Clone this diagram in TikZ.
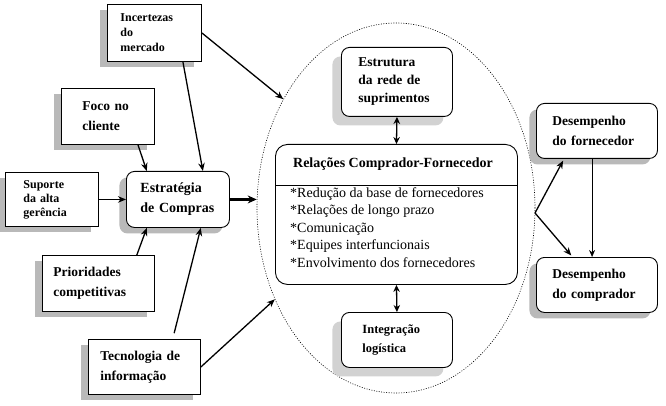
\documentclass[tikz,border=0pt]{standalone}
\usepackage{fontspec}
\setmainfont{Liberation Serif}
\usetikzlibrary{arrows.meta,shapes.geometric,calc,shadows}
\begin{document}
\begin{tikzpicture}[x=1pt,y=-1pt,
  box/.style={draw=black, line width=0.9pt, fill=white, align=left, inner ysep=0pt, anchor=north west},
  rbox/.style={box, rounded corners=8pt},
  dshad/.style={drop shadow={shadow xshift=-7pt,shadow yshift=-6pt,fill=gray!55,opacity=1}},
  lshad/.style={drop shadow={shadow xshift=-9pt,shadow yshift=-9pt,fill=gray!35,opacity=1}},
  arr/.style={-{Stealth[length=8pt,width=6.5pt]}, line width=1.3pt},
  darr/.style={{Stealth[length=7pt,width=6.5pt]}-{Stealth[length=7pt,width=6.5pt]}, line width=1.3pt},
  fa/.style={font=\fontsize{12}{15}\selectfont\bfseries},
  fb/.style={font=\fontsize{13.5}{20}\selectfont\bfseries},
  fc/.style={font=\fontsize{12}{14}\selectfont\bfseries},
  fd/.style={font=\fontsize{14}{20}\selectfont\bfseries},
  fe/.style={font=\fontsize{13.5}{18}\selectfont\bfseries},
  fg/.style={font=\fontsize{12.5}{19}\selectfont\bfseries},
  ff/.style={font=\fontsize{13.5}{20}\selectfont\bfseries}]
\useasboundingbox (0,0) rectangle (666,406);

% dotted ellipse
\node[ellipse, draw, line width=0.6pt, dash pattern=on 1pt off 1.5pt, minimum width=278pt, minimum height=370pt, inner sep=0pt] (ell) at (396,208) {};

% left boxes
\node[box, dshad, fa, inner xsep=13pt, text width=68pt, minimum height=57pt] (inc) at (107,4) {Incertezas\\do\\mercado};
\node[box, dshad, fb, inner xsep=21pt, text width=51pt, minimum height=56pt] (foc) at (61,88) {Foco no\\cliente};
\node[box, dshad, fc, inner xsep=18pt, text width=57pt, minimum height=54pt] (sup) at (5,172) {Suporte\\da alta\\gerência};
\node[rbox, dshad, fd, inner xsep=14pt, text width=75pt, minimum height=56pt] (str) at (126,171) {Estratégia\\de Compras};
\node[box, dshad, fb, inner xsep=11pt, text width=90pt, minimum height=56pt] (pri) at (42,255) {Prioridades\\competitivas};
\node[box, dshad, fb, inner xsep=12pt, text width=88pt, minimum height=55pt] (tec) at (88,339) {Tecnologia de\\informação};

% inner boxes
\node[rbox, lshad, fe, inner xsep=17pt, text width=77pt, minimum height=69pt] (est) at (341,47) {Estrutura\\da rede de\\suprimentos};
\node[box, rounded corners=12pt, inner sep=0pt, minimum width=242pt, minimum height=140pt] (rel) at (275,144) {};
\node[font=\fontsize{14}{16}\selectfont\bfseries] (relt) at (393,164) {Relações Comprador-Fornecedor};
\draw[line width=0.6pt] (rel.west |- 0,185) -- (rel.east |- 0,185);
\node[anchor=north west, align=left, inner sep=0pt, font=\fontsize{14}{17.5}\selectfont] (rell) at (290,187)
  {*Redução da base de fornecedores\\*Relações de longo prazo\\*Comunicação\\*Equipes interfuncionais\\*Envolvimento dos fornecedores};
\node[rbox, lshad, fg, inner xsep=21pt, text width=69pt, minimum height=55pt] (int) at (341,312) {Integração\\logística};

% right boxes
\node[rbox, dshad, ff, inner xsep=16pt, text width=89pt, minimum height=55pt] (df) at (536,103) {Desempenho\\do fornecedor};
\node[rbox, dshad, ff, inner xsep=16pt, text width=89pt, minimum height=55pt] (dc) at (536,257) {Desempenho\\do comprador};

% arrows
\draw[arr] ($(inc.south west)!0.8!(inc.south east)$) -- ($(str.north west)!0.74!(str.north east)$);
\draw[arr] (inc.east) -- (ell.136);
\draw[arr] ($(foc.south west)!0.82!(foc.south east)$) -- ($(str.north west)!0.2!(str.north east)$);
\draw[arr] (sup.east) -- (str.west);
\draw[arr] ($(pri.north west)!0.84!(pri.north east)$) -- ($(str.south west)!0.2!(str.south east)$);
\draw[arr, shorten <=6pt] ($(tec.north west)!0.75!(tec.north east)$) -- ($(str.south west)!0.72!(str.south east)$);
\draw[arr] (tec.east) -- (ell.217);
\draw[-{Stealth[length=9pt,width=8pt]}, line width=2.6pt] (str.east) -- (str.east -| ell.west);
\draw[darr] (est.south) -- (rel.north);
\draw[darr] (rel.south) -- (int.north);
\coordinate (fork) at (535,213);
\draw[arr, shorten >=2pt] (fork) -- ($(df.south west)!0.23!(df.south east)$);
\draw[arr, shorten >=2pt] (fork) -- ($(dc.north west)!0.3!(dc.north east)$);
\draw[-{Stealth[length=7pt,width=6pt]}, line width=0.9pt] ($(df.south west)!0.46!(df.south east)$) -- ($(dc.north west)!0.46!(dc.north east)$);
\end{tikzpicture}
\end{document}
